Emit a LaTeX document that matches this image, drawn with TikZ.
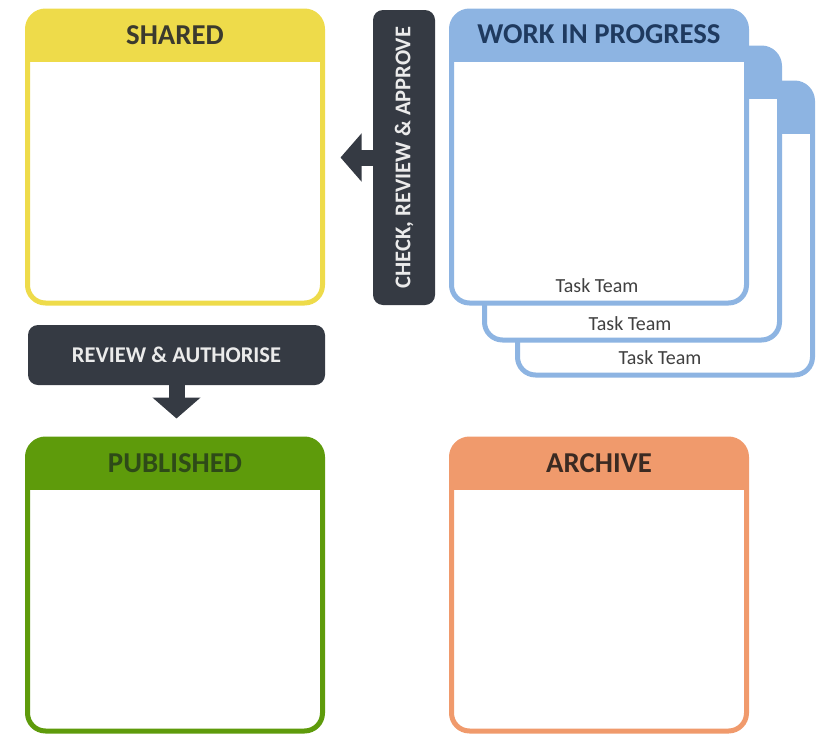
\documentclass[tikz,border=0pt]{standalone}
\usepackage{fontspec}
\setmainfont{Carlito}
\usepackage{graphicx}
\usetikzlibrary{positioning, arrows.meta}

\definecolor{sharedyellow}{HTML}{EEDB4A}
\definecolor{wipblue}{HTML}{8DB4E2}
\definecolor{pubgreen}{HTML}{5E9B0B}
\definecolor{archorange}{HTML}{F09A6C}
\definecolor{bardark}{HTML}{353A43}
\definecolor{sharedtext}{HTML}{3B3A2E}
\definecolor{wiptext}{HTML}{1F3A5F}
\definecolor{pubtext}{HTML}{2E4A18}
\definecolor{archtext}{HTML}{3B2A22}
\definecolor{tasktext}{HTML}{404040}

\begin{document}
\begin{tikzpicture}[
  x=1pt, y=-1pt,
  card/.style={draw=#1, fill=white, line width=5pt, rounded corners=18pt,
               minimum width=295pt, minimum height=292pt, inner sep=0pt,
               path picture={\fill[#1, sharp corners]
                 (path picture bounding box.north west) rectangle
                 ([shift={(0,51)}]path picture bounding box.north east);}},
  cardtitle/.style={font=\fontsize{28.8}{32}\selectfont\bfseries},
  darkbar/.style={fill=bardark, rounded corners=10pt, text=white!92!black,
                  font=\fontsize{22.5}{26}\selectfont\bfseries, inner sep=0pt},
  bigarrow/.style={draw=bardark, line width=16pt, shorten <=-3pt,
                   -{Triangle[width=47pt, length=21pt]}},
  taskteam/.style={font=\fontsize{20}{24}\selectfont, text=tasktext}
]
\useasboundingbox (0,0) rectangle (821,736);

% ---- Shared ----
\node[card=sharedyellow] (shared) at (175,157) {};
\node[cardtitle, text=sharedtext] at ([shift={(0,27)}]shared.north) {SHARED};

% ---- Work in progress (stack of task teams) ----
\node[card=wipblue] (wipc) at (665,229) {};
\node[taskteam] at ([shift={(-5,-20)}]wipc.south) {Task Team};
\node[card=wipblue] (wipb) at (632,194) {};
\node[taskteam] at ([shift={(-2,-19)}]wipb.south) {Task Team};
\node[card=wipblue] (wipa) at (599,157) {};
\node[taskteam] at ([shift={(-2,-20)}]wipa.south) {Task Team};
\node[cardtitle, text=wiptext] at ([shift={(0,26)}]wipa.north) {WORK IN PROGRESS};

% ---- Published / Archive ----
\node[card=pubgreen] (published) at (175,585) {};
\node[cardtitle, text=pubtext] at ([shift={(0,27)}]published.north) {PUBLISHED};
\node[card=archorange] (archive) at (599,585) {};
\node[cardtitle, text=archtext] at ([shift={(0,27)}]archive.north) {ARCHIVE};

% ---- Process bars ----
\node[darkbar, minimum width=62pt, minimum height=295pt] (check) at (404,157.5)
  {\rotatebox{90}{CHECK, REVIEW \& APPROVE}};
\node[darkbar, minimum width=297pt, minimum height=60pt] (review) at (176.5,355)
  {REVIEW \& AUTHORISE};

% ---- Arrows ----
\draw[bigarrow, shorten >=15.5pt] (check.west) -- (check.west -| shared.east);
\draw[bigarrow, shorten >=18pt] (review.south) -- (review.south |- published.north);

\end{tikzpicture}
\end{document}
